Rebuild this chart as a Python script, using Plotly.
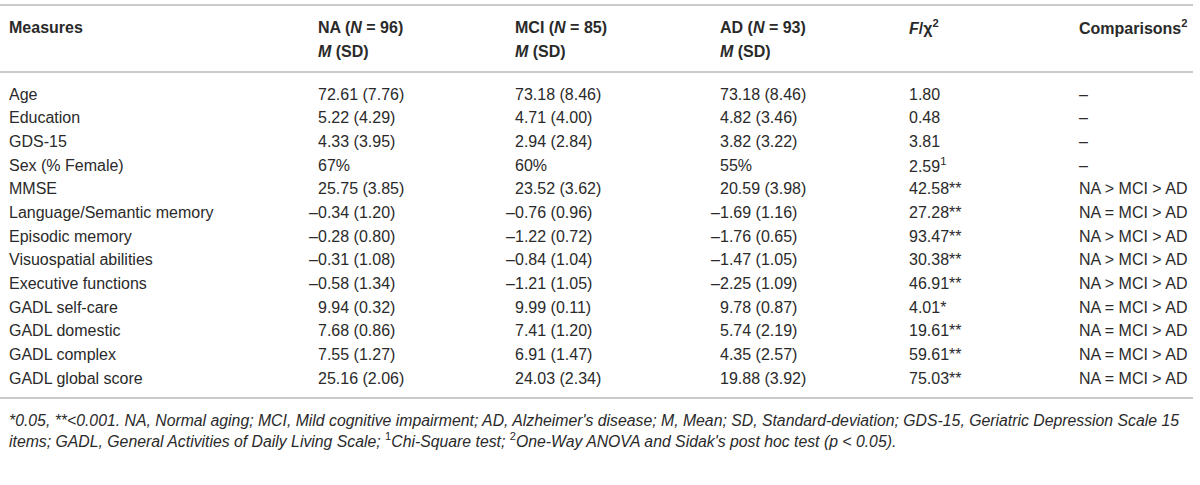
import plotly.graph_objects as go

# ----- table data -----
measures = ["Age", "Education", "GDS-15", "Sex (% Female)", "MMSE",
            "Language/Semantic memory", "Episodic memory", "Visuospatial abilities",
            "Executive functions", "GADL self-care", "GADL domestic",
            "GADL complex", "GADL global score"]
na_vals = ["72.61 (7.76)", "5.22 (4.29)", "4.33 (3.95)", "67%", "25.75 (3.85)",
           "–0.34 (1.20)", "–0.28 (0.80)", "–0.31 (1.08)", "–0.58 (1.34)",
           "9.94 (0.32)", "7.68 (0.86)", "7.55 (1.27)", "25.16 (2.06)"]
mci_vals = ["73.18 (8.46)", "4.71 (4.00)", "2.94 (2.84)", "60%", "23.52 (3.62)",
            "–0.76 (0.96)", "–1.22 (0.72)", "–0.84 (1.04)", "–1.21 (1.05)",
            "9.99 (0.11)", "7.41 (1.20)", "6.91 (1.47)", "24.03 (2.34)"]
ad_vals = ["73.18 (8.46)", "4.82 (3.46)", "3.82 (3.22)", "55%", "20.59 (3.98)",
           "–1.69 (1.16)", "–1.76 (0.65)", "–1.47 (1.05)", "–2.25 (1.09)",
           "9.78 (0.87)", "5.74 (2.19)", "4.35 (2.57)", "19.88 (3.92)"]
f_vals = ["1.80", "0.48", "3.81", "2.59<sup>1</sup>", "42.58**", "27.28**", "93.47**",
          "30.38**", "46.91**", "4.01*", "19.61**", "59.61**", "75.03**"]
comparisons = ["–", "–", "–", "–", "NA > MCI > AD", "NA = MCI > AD", "NA > MCI > AD",
               "NA > MCI > AD", "NA > MCI > AD", "NA = MCI > AD", "NA = MCI > AD",
               "NA = MCI > AD", "NA = MCI > AD"]

header1 = ["Measures", "NA (<i>N</i> = 96)", "MCI (<i>N</i> = 85)", "AD (<i>N</i> = 93)",
           "<i>F</i>/χ<sup>2</sup>", "Comparisons<sup>2</sup>"]
header2 = ["", "<i>M</i> (SD)", "<i>M</i> (SD)", "<i>M</i> (SD)", "", ""]

footnote = ["*0.05, **<0.001. NA, Normal aging; MCI, Mild cognitive impairment; AD, Alzheimer's disease; "
            "M, Mean; SD, Standard-deviation; GDS-15, Geriatric Depression Scale 15",
            "items; GADL, General Activities of Daily Living Scale; </i><sup>1</sup><i>Chi-Square test; "
            "</i><sup>2</sup><i>One-Way ANOVA and Sidak's post hoc test (p < 0.05)."]

# ----- layout -----
W, H = 1200, 485
col_x = [8, 317, 514, 719, 908, 1078]
head_y = [27, 51]
row0, pitch = 94, 23.67
rule_top, rule_head, rule_bottom = 5, 72, 398
foot_y = [420, 440]
text_col = "#2a2a2a"
rule_col = "#cacaca"
FONT = "Liberation Sans, Arial, sans-serif"

row_y = [row0 + i * pitch for i in range(len(measures))]

fig = go.Figure()


def add_text(x, y, text, anchor="left", size=16):
    if not text:
        return
    fig.add_annotation(x=x, y=y, xref="x", yref="y", text=text, showarrow=False,
                       xanchor=anchor, yanchor="middle", borderpad=0,
                       font=dict(family=FONT, size=size, color=text_col))


# header rows
for cx, h1, h2 in zip(col_x, header1, header2):
    add_text(cx, head_y[0], "<b>%s</b>" % h1)
    if h2:
        add_text(cx, head_y[1], "<b>%s</b>" % h2)

# body: first column and text columns
for ry, m, f, c in zip(row_y, measures, f_vals, comparisons):
    add_text(col_x[0], ry, m)
    add_text(col_x[4], ry, f)
    add_text(col_x[5], ry, c)

# group columns: minus sign hangs to the left of the column edge
for cx, vals in zip(col_x[1:4], [na_vals, mci_vals, ad_vals]):
    for ry, v in zip(row_y, vals):
        add_text(cx, ry, v.lstrip("–"))
        if v.startswith("–"):
            add_text(cx + 2, ry, "–", anchor="right")

# footnote
for fy, line in zip(foot_y, footnote):
    add_text(col_x[0], fy, "<i>%s</i>" % line, size=15.8)

# horizontal rules
for ry in [rule_top, rule_head, rule_bottom]:
    fig.add_shape(type="line", x0=0, x1=1193, y0=ry, y1=ry, xref="x", yref="y",
                  line=dict(color=rule_col, width=2))

fig.update_layout(width=W, height=H, margin=dict(l=0, r=0, t=0, b=0),
                  plot_bgcolor="white", paper_bgcolor="white")
fig.update_xaxes(range=[0, W], visible=False, fixedrange=True)
fig.update_yaxes(range=[H, 0], visible=False, fixedrange=True)

# drop the browser's default page margin so the figure sits at the window origin
fig.write_html("out.html", config={"displayModeBar": False},
               post_script="document.body.style.margin='0';")
